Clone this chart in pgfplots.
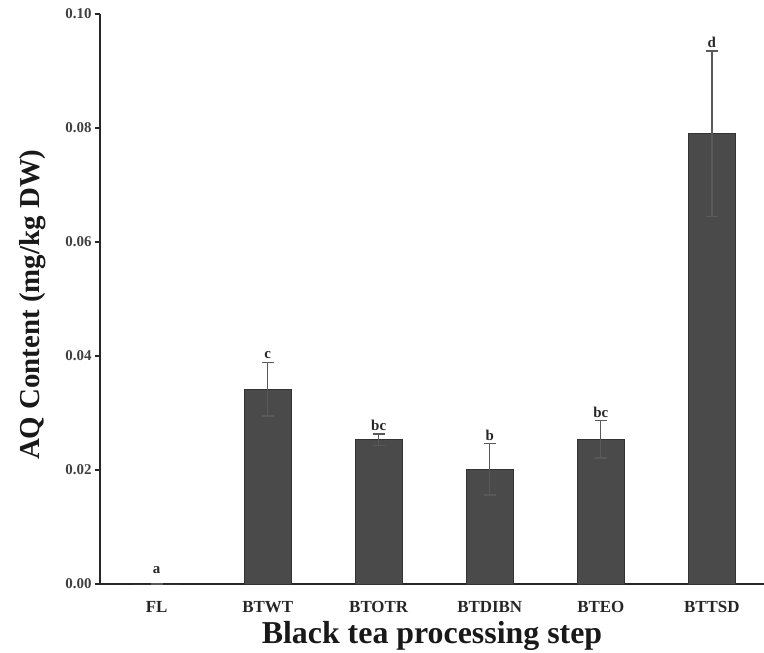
\documentclass[border=0pt]{standalone}
\usepackage{fontspec}
\setmainfont{Liberation Serif}
\usepackage{pgfplots}
\pgfplotsset{compat=1.18}
\definecolor{barfill}{HTML}{4A4A4A}
\begin{document}
\begin{tikzpicture}
\begin{axis}[
  scale only axis,
  width=664bp, height=570bp,
  xmin=-0.51, xmax=5.47,
  ymin=0, ymax=0.1,
  axis x line=bottom, axis y line=left,
  axis line style={-, line width=1.6bp, black!85},
  xtick={0,1,2,3,4,5},
  xticklabels={FL,BTWT,BTOTR,BTDIBN,BTEO,BTTSD},
  x tick style={draw=none},
  xticklabel style={font=\fontsize{17}{17}\selectfont\bfseries, yshift=-9bp, text=black!85},
  ytick={0,0.02,0.04,0.06,0.08,0.1},
  yticklabel style={font=\fontsize{15}{15}\selectfont\bfseries, text=black!75, /pgf/number format/fixed, /pgf/number format/precision=2, /pgf/number format/fixed zerofill, /pgf/number format/assume math mode=true},
  scaled y ticks=false,
  tick align=outside,
  major tick length=5bp,
  y tick style={line width=1.4bp, black!85},
  xlabel={Black tea processing step},
  ylabel={AQ Content (mg/kg DW)},
  xlabel style={font=\fontsize{32}{32}\selectfont\bfseries, at={(axis description cs:0.5,-0.091)}, anchor=center, text=black!90},
  ylabel style={font=\fontsize{29}{29}\selectfont\bfseries, at={(axis description cs:-0.102,0.49)}, anchor=center, rotate=0, text=black!90},
  clip=false,
]
\addplot[ybar, bar width=47bp, fill=barfill, draw=black!80, line width=0.6bp,
  error bars/.cd, y dir=both, y explicit,
  error bar style={line width=1.4bp, color=black!65},
  error mark options={rotate=90, mark size=6bp, line width=1.4bp, black!65}]
  table[x=x, y=y, y error=e] {
x y e
0 0 0
1 0.0342 0.0047
2 0.0253 0.0010
3 0.0201 0.0045
4 0.0254 0.0033
5 0.0790 0.0145
};
\addplot[draw=none, mark=none, nodes near coords, point meta=explicit symbolic,
  nodes near coords style={anchor=south, font=\fontsize{15}{15}\selectfont\bfseries, text=black!85, inner sep=1bp, yshift=2bp}]
  table[x=x, y=y, meta=lab] {
x y lab
0 0.0012 a
1 0.0389 c
2 0.0263 bc
3 0.0246 b
4 0.0287 bc
5 0.0935 d
};
\end{axis}
\pgfresetboundingbox
\path[use as bounding box] ([shift={(-100bp,-69bp)}]current axis.south west) rectangle ([shift={(664bp,584bp)}]current axis.south west);
\end{tikzpicture}
\end{document}
